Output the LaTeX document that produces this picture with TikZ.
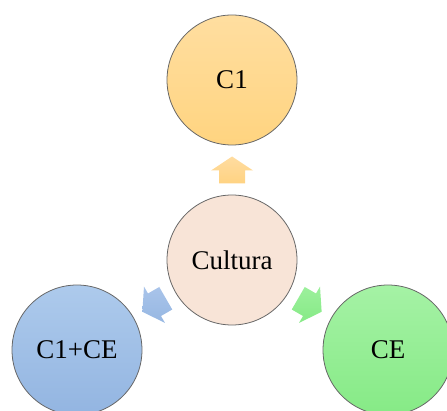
\documentclass[tikz,border=0pt]{standalone}
\usepackage{fontspec}
\setmainfont{Liberation Serif}
\begin{document}
\begin{tikzpicture}[x=1pt,y=1pt,
  bubble/.style={circle,minimum size=130pt,inner sep=0pt,draw=black!60,line width=0.8pt,
    font=\fontsize{27}{32}\selectfont},
  blockarrow/.style={draw=none}]
\useasboundingbox (0,0) rectangle (447,410);
\clip (0,0) rectangle (447,410);

\definecolor{orangetop}{HTML}{FFDEA0}
\definecolor{orangebot}{HTML}{FFD480}
\definecolor{peach}{HTML}{F8E4D7}
\definecolor{bluetop}{HTML}{ADCAEC}
\definecolor{bluebot}{HTML}{93B5E1}
\definecolor{greentop}{HTML}{A5F2A5}
\definecolor{greenbot}{HTML}{86EA86}

% circles
\node[bubble,top color=orangetop,bottom color=orangebot] (c1) at (232,330) {C1};
\node[bubble,fill=peach] (cultura) at (232,150) {Cultura};
\node[bubble,top color=bluetop,bottom color=bluebot] (c1ce) at (77,60) {C1+CE};
\node[bubble,top color=greentop,bottom color=greenbot] (ce) at (388,60) {CE};

% block arrows pointing outward from the centre circle
\foreach \ang/\ctop/\cbot in {0/FFDCA0/FFD382, 120/A9C4EA/96B7E2, -120/9CF09C/86EA86}{
  \definecolor{atop}{HTML}{\ctop}
  \definecolor{abot}{HTML}{\cbot}
  \begin{scope}[shift={(cultura.center)},rotate=\ang]
    \shade[blockarrow,top color=atop,bottom color=abot]
      (-13,76.5) -- (-13,89.5) -- (-21,89.5) -- (0,103.5) -- (21,89.5)
      -- (13,89.5) -- (13,76.5) -- cycle;
  \end{scope}
}
\end{tikzpicture}
\end{document}
